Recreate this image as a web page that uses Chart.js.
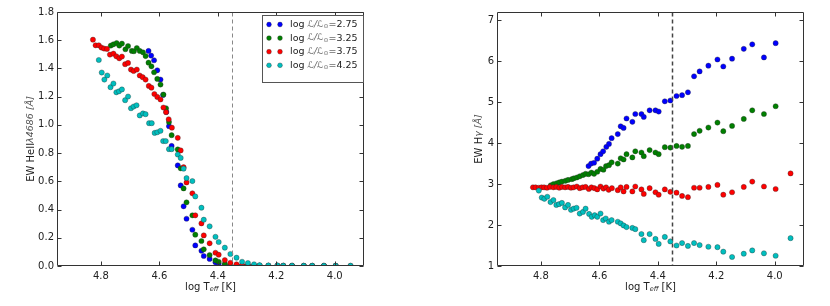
<!DOCTYPE html>
<html>
<head>
<meta charset="utf-8">
<script src="https://cdn.jsdelivr.net/npm/chart.js@4.4.0/dist/chart.umd.min.js"></script>
<style>
  html, body { margin: 0; padding: 0; background: #fff; }
  #wrap { position: relative; width: 830px; height: 306px; }
  .box { position: absolute; top: 0; width: 415px; height: 306px; }
</style>
</head>
<body>
<div id="wrap">
  <div class="box" style="left:0"><canvas id="c1" width="415" height="306"></canvas></div>
  <div class="box" style="left:415px"><canvas id="c2" width="415" height="306"></canvas></div>
</div>
<script>
// logTeff grid, per luminosity class (dense hot part + common sparse part)
const T_sparse = [4.537, 4.527, 4.517, 4.507, 4.487, 4.477, 4.456, 4.448, 4.428, 4.408, 4.397, 4.376, 4.357,
                  4.336, 4.317, 4.297, 4.276, 4.257, 4.227, 4.196, 4.176, 4.146, 4.106, 4.077, 4.037, 3.997];

const T_275 = [4.637, 4.628, 4.618, 4.607, 4.596, 4.587, 4.576, 4.567, 4.558].concat(T_sparse);
const T_325 = [4.766, 4.757, 4.746, 4.737, 4.728, 4.716, 4.707, 4.694, 4.687, 4.677, 4.667, 4.656, 4.647,
               4.637, 4.627, 4.618, 4.607, 4.596, 4.586, 4.577, 4.567, 4.558].concat(T_sparse);
const T_375 = [4.827, 4.818, 4.807, 4.798, 4.789, 4.779, 4.769, 4.757, 4.747, 4.737, 4.728, 4.717, 4.707, 4.697,
               4.688, 4.677, 4.667, 4.657, 4.647, 4.636, 4.627, 4.617, 4.607, 4.596, 4.586, 4.577, 4.568, 4.557]
               .concat(T_sparse, [3.946]);
const T_425 = [4.807, 4.797, 4.788, 4.778, 4.767, 4.757, 4.747, 4.738, 4.728, 4.717, 4.707, 4.697, 4.688,
               4.678, 4.667, 4.656, 4.647, 4.635, 4.626, 4.616, 4.607, 4.596, 4.587, 4.578, 4.567, 4.558]
               .concat(T_sparse, [3.946]);

// EW HeII 4686
const heii_275 = [1.524, 1.491, 1.458, 1.387, 1.321, 1.212, 1.092, 0.991, 0.851,
  0.713, 0.571, 0.423, 0.335, 0.257, 0.146, 0.108, 0.071, 0.050, 0.026, 0.016, 0.008, 0.004,
  0.003, 0.002, 0.002, 0.001, 0.001, 0.001, 0.001, 0.001, 0.001, 0.001, 0.001, 0.001, 0.001];
const heii_325 = [1.562, 1.571, 1.580, 1.562, 1.576, 1.536, 1.559, 1.524, 1.522, 1.545, 1.524, 1.514, 1.488,
  1.441, 1.415, 1.373, 1.326, 1.286, 1.215, 1.118, 1.020, 0.927,
  0.826, 0.692, 0.550, 0.451, 0.359, 0.222, 0.177, 0.118, 0.078, 0.040, 0.030, 0.015, 0.008,
  0.004, 0.003, 0.002, 0.001, 0.001, 0.001, 0.001, 0.001, 0.001, 0.001, 0.001, 0.001, 0.001];
const heii_375 = [1.604, 1.564, 1.564, 1.548, 1.541, 1.538, 1.498, 1.505, 1.486, 1.472, 1.484, 1.430, 1.439, 1.392,
  1.382, 1.392, 1.350, 1.338, 1.321, 1.276, 1.264, 1.219, 1.198, 1.180, 1.123, 1.090, 1.040, 0.980,
  0.908, 0.819, 0.700, 0.592, 0.515, 0.359, 0.302, 0.217, 0.161, 0.094, 0.080, 0.042, 0.023,
  0.012, 0.007, 0.004, 0.003, 0.002, 0.001, 0.001, 0.001, 0.001, 0.001, 0.001, 0.001, 0.001, 0.001];
const heii_425 = [1.460, 1.371, 1.321, 1.350, 1.267, 1.293, 1.231, 1.238, 1.251, 1.175, 1.201, 1.118, 1.130,
  1.139, 1.067, 1.081, 1.076, 1.012, 1.012, 0.943, 0.948, 0.958, 0.885, 0.885, 0.828, 0.828,
  0.790, 0.766, 0.690, 0.623, 0.602, 0.493, 0.413, 0.328, 0.281, 0.207, 0.170, 0.130, 0.085,
  0.059, 0.030, 0.021, 0.012, 0.006, 0.004, 0.004, 0.003, 0.003, 0.002, 0.002, 0.002, 0.002, 0.002];

// EW Hgamma
const hg_275 = [3.44, 3.50, 3.52, 3.62, 3.73, 3.80, 3.91, 3.98, 4.12,
  4.22, 4.41, 4.37, 4.60, 4.52, 4.71, 4.71, 4.64, 4.80, 4.80, 4.77, 5.02, 5.04,
  5.15, 5.17, 5.24, 5.63, 5.75, 5.89, 6.04, 5.87, 6.06, 6.30, 6.41, 6.09, 6.44];
const hg_325 = [2.97, 3.00, 3.02, 3.04, 3.06, 3.08, 3.10, 3.12, 3.14, 3.16, 3.19, 3.22, 3.25,
  3.24, 3.28, 3.25, 3.30, 3.37, 3.35, 3.44, 3.46, 3.53,
  3.50, 3.63, 3.60, 3.73, 3.65, 3.80, 3.77, 3.68, 3.83, 3.77, 3.73, 3.90, 3.89,
  3.93, 3.91, 3.93, 4.22, 4.30, 4.38, 4.50, 4.29, 4.42, 4.59, 4.80, 4.71, 4.90];
const hg_375 = [2.92, 2.92, 2.91, 2.92, 2.92, 2.91, 2.93, 2.92, 2.93, 2.91, 2.93, 2.92, 2.93, 2.91,
  2.92, 2.94, 2.90, 2.92, 2.93, 2.88, 2.92, 2.90, 2.87, 2.94, 2.89, 2.92, 2.86, 2.90,
  2.85, 2.92, 2.82, 2.93, 2.82, 2.94, 2.87, 2.76, 2.90, 2.80, 2.74, 2.87, 2.81,
  2.79, 2.71, 2.68, 2.91, 2.91, 2.93, 2.98, 2.74, 2.80, 2.93, 3.06, 2.94, 2.88, 3.26];
const hg_425 = [2.84, 2.67, 2.64, 2.69, 2.56, 2.61, 2.49, 2.51, 2.54, 2.43, 2.49, 2.37, 2.40,
  2.42, 2.28, 2.32, 2.40, 2.27, 2.20, 2.24, 2.20, 2.28, 2.12, 2.16, 2.08, 2.12,
  2.08, 2.04, 1.99, 1.95, 1.93, 1.90, 1.78, 1.63, 1.78, 1.66, 1.54, 1.71, 1.60,
  1.50, 1.56, 1.49, 1.56, 1.51, 1.47, 1.46, 1.35, 1.22, 1.30, 1.38, 1.31, 1.25, 1.68];

const lumLabels = ['2.75', '3.25', '3.75', '4.25'];
const colors = ['#0000ff', '#008000', '#ff0000', '#00bfbf'];
const xTicks = [4.8, 4.6, 4.4, 4.2, 4.0];
const yTicksHeII = [0, 0.2, 0.4, 0.6, 0.8, 1.0, 1.2, 1.4, 1.6, 1.8];
const yTicksHg = [1, 2, 3, 4, 5, 6, 7];
const T_ZAMS = 4.35;   // dashed line

const FONT = '"DejaVu Sans", sans-serif';
const TXT = '#222';

function pts(xs, ys) { return xs.map((x, i) => ({x: x, y: ys[i]})); }

function makeSets(series) {
  return series.map((s, i) => ({
    label: lumLabels[i],
    data: pts(s[0], s[1]),
    backgroundColor: colors[i],
    borderColor: 'rgba(40,40,40,0.7)',
    pointBorderWidth: 0.5,
    pointRadius: 2.6,
    showLine: false,
    order: 4 - i          // later series drawn on top, like matplotlib
  }));
}

// draw a run of text pieces (for sub/superscripts), centred on cx
function richText(ctx, parts, cx, cy) {
  let w = 0;
  parts.forEach(p => { ctx.font = p.font; w += ctx.measureText(p.t).width; });
  let x = cx - w / 2;
  ctx.textBaseline = 'middle';
  ctx.textAlign = 'left';
  parts.forEach(p => {
    ctx.font = p.font;
    ctx.fillStyle = p.color || TXT;
    ctx.fillText(p.t, x, cy + (p.dy || 0));
    x += ctx.measureText(p.t).width;
  });
}

// per-chart settings for the frame plugin
const frameCfg = {};

const frame = {
  id: 'frame',
  afterDraw(chart) {
    const opt = frameCfg[chart.canvas.id];
    const ctx = chart.ctx, a = chart.chartArea;
    const xs = chart.scales.x, ys = chart.scales.y;
    const L = Math.round(a.left) + 0.5, R = Math.round(a.right) - 0.5;
    const Tp = Math.round(a.top) + 0.5, B = Math.round(a.bottom) - 0.5;
    ctx.save();
    // dashed line
    const xd = Math.round(xs.getPixelForValue(T_ZAMS)) + 0.5;
    ctx.strokeStyle = opt.dashColor;
    ctx.lineWidth = opt.dashWidth;
    ctx.setLineDash([4, 3]);
    ctx.beginPath(); ctx.moveTo(xd, Tp); ctx.lineTo(xd, B); ctx.stroke();
    ctx.setLineDash([]);
    // box + inward ticks on all sides
    ctx.strokeStyle = '#333';
    ctx.lineWidth = 1;
    ctx.beginPath();
    ctx.moveTo(L, Tp); ctx.lineTo(R, Tp); ctx.lineTo(R, B); ctx.lineTo(L, B); ctx.closePath();
    xTicks.forEach(v => {
      const x = Math.round(xs.getPixelForValue(v)) + 0.5;
      ctx.moveTo(x, B); ctx.lineTo(x, B - 4);
      ctx.moveTo(x, Tp); ctx.lineTo(x, Tp + 4);
    });
    opt.yTicks.forEach(v => {
      const y = Math.round(ys.getPixelForValue(v)) + 0.5;
      ctx.moveTo(L, y); ctx.lineTo(L + 4, y);
      ctx.moveTo(R, y); ctx.lineTo(R - 4, y);
    });
    ctx.stroke();
    // x title
    const cx = (a.left + a.right) / 2;
    richText(ctx, [
      {t: 'log T', font: '10px ' + FONT},
      {t: 'eff', font: 'italic 6.5px ' + FONT, dy: 2},
      {t: ' [K]', font: '10px ' + FONT}
    ], cx, 287);
    // y title
    ctx.translate(opt.yTitleX, (a.top + a.bottom) / 2);
    ctx.rotate(-Math.PI / 2);
    richText(ctx, opt.yTitle, 0, 0);
    ctx.restore();
  }
};

const legendBox = {
  id: 'legendBox',
  afterDraw(chart) {
    const ctx = chart.ctx;
    ctx.save();
    ctx.fillStyle = '#fff';
    ctx.fillRect(262.5, 15.5, 101, 67);
    ctx.strokeStyle = '#555';
    ctx.lineWidth = 1;
    ctx.strokeRect(262.5, 15.5, 101, 67);
    lumLabels.forEach((lab, i) => {
      const y = 24.5 + i * 13.6;
      [269, 280].forEach(x => {
        ctx.beginPath();
        ctx.arc(x, y, 2.4, 0, Math.PI * 2);
        ctx.fillStyle = colors[i];
        ctx.fill();
        ctx.lineWidth = 0.5;
        ctx.strokeStyle = 'rgba(40,40,40,0.7)';
        ctx.stroke();
      });
      const parts = [
        {t: 'log ', font: '9.5px ' + FONT},
        {t: 'ℒ/ℒ', font: 'italic 9px ' + FONT, color: '#666'},
        {t: '⊙', font: '6px ' + FONT, color: '#666', dy: 2},
        {t: '=' + lab, font: '9.5px ' + FONT}
      ];
      let w = 0;
      parts.forEach(p => { ctx.font = p.font; w += ctx.measureText(p.t).width; });
      richText(ctx, parts, 290 + w / 2, y);
    });
    ctx.restore();
  }
};

function makeChart(id, series, yMin, yMax, yTicks, yFmt, yWidth, padRight, extra) {
  return new Chart(document.getElementById(id), {
    type: 'scatter',
    data: {datasets: makeSets(series)},
    plugins: [frame].concat(extra),
    options: {
      responsive: false,
      animation: false,
      events: [],
      layout: {padding: {left: 0, top: 12, right: padRight, bottom: 0}},
      plugins: {legend: {display: false}, tooltip: {enabled: false}},
      scales: {
        x: {
          type: 'linear', reverse: true, min: 3.9, max: 4.95,
          afterBuildTicks: s => { s.ticks = xTicks.map(v => ({value: v})); },
          afterFit: s => { s.height = 40; },
          grid: {display: false, drawTicks: false}, border: {display: false},
          ticks: {padding: 4, color: TXT, font: {family: FONT, size: 10}, maxRotation: 0, autoSkip: false,
                  callback: v => v.toFixed(1)}
        },
        y: {
          min: yMin, max: yMax,
          afterBuildTicks: s => { s.ticks = yTicks.map(v => ({value: v})); },
          afterFit: s => { s.width = yWidth; },
          grid: {display: false, drawTicks: false}, border: {display: false},
          ticks: {padding: 3, color: TXT, font: {family: FONT, size: 10}, autoSkip: false, callback: yFmt}
        }
      }
    }
  });
}

frameCfg.c1 = {dashColor: '#888', dashWidth: 1, yTicks: yTicksHeII, yTitleX: 31,
  yTitle: [{t: 'EW HeII', font: '10px ' + FONT},
           {t: 'λ4686 [Å]', font: 'italic 9.5px ' + FONT, color: '#555'}]};
frameCfg.c2 = {dashColor: '#444', dashWidth: 1.5, yTicks: yTicksHg, yTitleX: 64,
  yTitle: [{t: 'EW H', font: '10px ' + FONT},
           {t: 'γ [Å]', font: 'italic 9.5px ' + FONT, color: '#555'}]};

makeChart('c1',
  [[T_275, heii_275], [T_325, heii_325], [T_375, heii_375], [T_425, heii_425]],
  0, 1.8, yTicksHeII, v => v.toFixed(1), 57, 51, [legendBox]);

makeChart('c2',
  [[T_275, hg_275], [T_325, hg_325], [T_375, hg_375], [T_425, hg_425]],
  1, 7.2, yTicksHg, v => String(v), 82, 26, []);
</script>
</body>
</html>
